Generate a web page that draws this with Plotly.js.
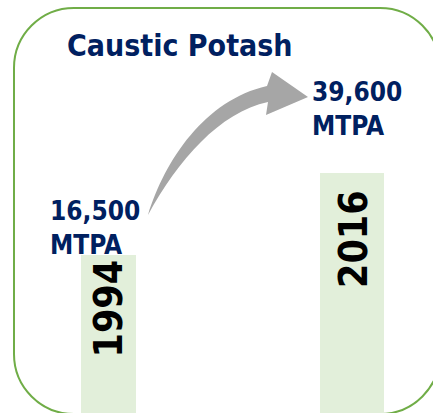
<!DOCTYPE html>
<html>
<head>
<meta charset="utf-8">
<script src="https://cdn.plot.ly/plotly-3.0.1.min.js"></script>
<style>
  html, body { margin: 0; padding: 0; background: #ffffff; }
  #chart { width: 433px; height: 413px; }
</style>
</head>
<body>
<div id="chart"></div>
<script>
// ---- data ----
const years = ['1994', '2016'];
const capacity = [16500, 39600];
const unit = 'MTPA';
const chartTitle = 'Caustic Potash';

// ---- helpers (pixel -> paper) ----
const W = 433, H = 413;
const px = x => x / W;
const py = y => 1 - y / H;
const P = (x, y) => px(x).toFixed(5) + ',' + py(y).toFixed(5);

const FONT = 'DejaVu Sans Condensed, DejaVu Sans, sans-serif';
const NAVY = '#002060';

// rounded frame
const L = 14, T = 8, R = 440, B = 414, r = 60, k = 0.5523 * r;
const framePath =
  'M' + P(L, T + r) +
  ' C' + P(L, T + r - k) + ' ' + P(L + r - k, T) + ' ' + P(L + r, T) +
  ' L' + P(R - r, T) +
  ' C' + P(R - r + k, T) + ' ' + P(R, T + r - k) + ' ' + P(R, T + r) +
  ' L' + P(R, B - r) +
  ' C' + P(R, B - r + k) + ' ' + P(R - r + k, B) + ' ' + P(R - r, B) +
  ' L' + P(L + r, B) +
  ' C' + P(L + r - k, B) + ' ' + P(L, B - r + k) + ' ' + P(L, B - r) + ' Z';

// curved arrow
const arrowPath =
  'M' + P(148, 215) +
  ' C' + P(165, 160) + ' ' + P(205, 100) + ' ' + P(267, 86) +
  ' L' + P(272, 72) + ' L' + P(308, 97) + ' L' + P(266, 115) + ' L' + P(268, 102) +
  ' C' + P(220, 112) + ' ' + P(178, 160) + ' ' + P(148, 215) + ' Z';

const yMin = -28010, yMax = 88335;

const trace = {
  type: 'bar',
  x: years,
  y: capacity.map(v => v - yMin),
  base: yMin,
  width: [0.2259, 0.2628],
  marker: { color: '#e2efda', line: { width: 0 } },
  hoverinfo: 'skip'
};

const fmt = v => v.toLocaleString('en-US');

const annotations = [
  // year labels inside bars (x = category index)
  { x: 0, xref: 'x', y: py(309), yref: 'paper', text: years[0], textangle: -90,
    showarrow: false, xanchor: 'center', yanchor: 'middle', xshift: -1,
    font: { family: FONT, size: 39, color: '#000000', weight: 'bold' } },
  { x: 1, xref: 'x', y: py(239), yref: 'paper', text: years[1], textangle: -90,
    showarrow: false, xanchor: 'center', yanchor: 'middle', xshift: 1,
    font: { family: FONT, size: 39, color: '#000000', weight: 'bold' } },
  // value labels
  { x: px(49), xref: 'paper', y: py(195), yref: 'paper',
    text: fmt(capacity[0]) + '<br>' + unit, align: 'left',
    showarrow: false, xanchor: 'left', yanchor: 'top', borderpad: 0,
    font: { family: FONT, size: 26, color: NAVY, weight: 'bold' } },
  { x: px(311), xref: 'paper', y: py(76), yref: 'paper',
    text: fmt(capacity[1]) + '<br>' + unit, align: 'left',
    showarrow: false, xanchor: 'left', yanchor: 'top', borderpad: 0,
    font: { family: FONT, size: 26, color: NAVY, weight: 'bold' } }
];

const layout = {
  width: W, height: H,
  margin: { l: 0, r: 0, t: 0, b: 0, pad: 0 },
  paper_bgcolor: '#ffffff',
  plot_bgcolor: 'rgba(0,0,0,0)',
  showlegend: false,
  title: {
    text: chartTitle,
    x: px(67), xanchor: 'left', xref: 'paper',
    y: py(45), yanchor: 'middle', yref: 'container',
    font: { family: FONT, size: 30, color: NAVY, weight: 'bold' }
  },
  xaxis: { type: 'category', range: [-0.4456, 1.3326], visible: false, fixedrange: true },
  yaxis: { range: [yMin, yMax], visible: false, fixedrange: true },
  shapes: [
    { type: 'path', xref: 'paper', yref: 'paper', path: framePath, layer: 'below',
      line: { color: '#70ad47', width: 2 }, fillcolor: 'rgba(0,0,0,0)' },
    { type: 'path', xref: 'paper', yref: 'paper', path: arrowPath, layer: 'above',
      line: { width: 0 }, fillcolor: '#a6a6a6' }
  ],
  annotations: annotations,
  hovermode: false
};

Plotly.newPlot('chart', [trace], layout, { displayModeBar: false, staticPlot: true });
</script>
</body>
</html>
